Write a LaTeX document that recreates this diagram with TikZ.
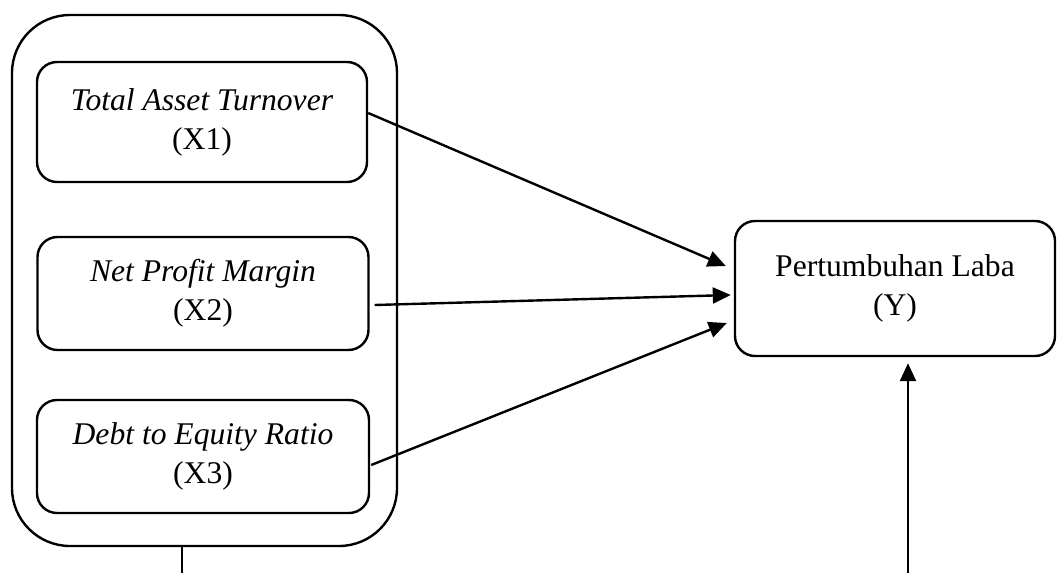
\documentclass[tikz,border=0pt]{standalone}
\usepackage{fontspec}
\setmainfont{Liberation Serif}
\usetikzlibrary{arrows.meta,calc}
\begin{document}
\begin{tikzpicture}[x=1pt,y=-1pt,
  lw/.style={line width=2.4pt},
  var/.style={lw,draw,rounded corners=20pt,align=center,inner sep=0pt,
    font=\fontsize{31.6}{39}\selectfont},
  arr/.style={lw,-{Triangle[length=18pt,width=16pt]}}]
\useasboundingbox (0,0) rectangle (1057,573);
\node[lw,draw,rounded corners=58pt,minimum width=385pt,minimum height=531pt] (outer) at (204.5,280.5) {};
\node[var,minimum width=330pt,minimum height=120pt] (x1) at (202,122) {\textit{Total Asset Turnover}\\(X1)};
\node[var,minimum width=331pt,minimum height=113pt] (x2) at (203,293.5) {\textit{Net Profit Margin}\\(X2)};
\node[var,minimum width=332pt,minimum height=113pt] (x3) at (203,456.5) {\textit{Debt to Equity Ratio}\\(X3)};
\node[var,minimum width=320pt,minimum height=135pt] (y) at (895,288.5) {Pertumbuhan Laba\\(Y)};
\coordinate (b1) at (182,573);
\coordinate (b2) at (908,573);
\draw[arr] ([yshift=9pt]x1.east) -- ([xshift=-8pt,yshift=22.5pt]y.west);
\draw[arr] ([xshift=5pt,yshift=-11.5pt]x2.east) -- ([xshift=-3pt,yshift=-6.5pt]y.west);
\draw[arr] ([xshift=1pt,yshift=-8.5pt]x3.east) -- ([xshift=-7pt,yshift=-34.5pt]y.west);
\draw[lw] (outer.south -| b1) -- (b1);
\draw[arr] (b2) -- ([yshift=-6pt]y.south -| b2);
\end{tikzpicture}
\end{document}
